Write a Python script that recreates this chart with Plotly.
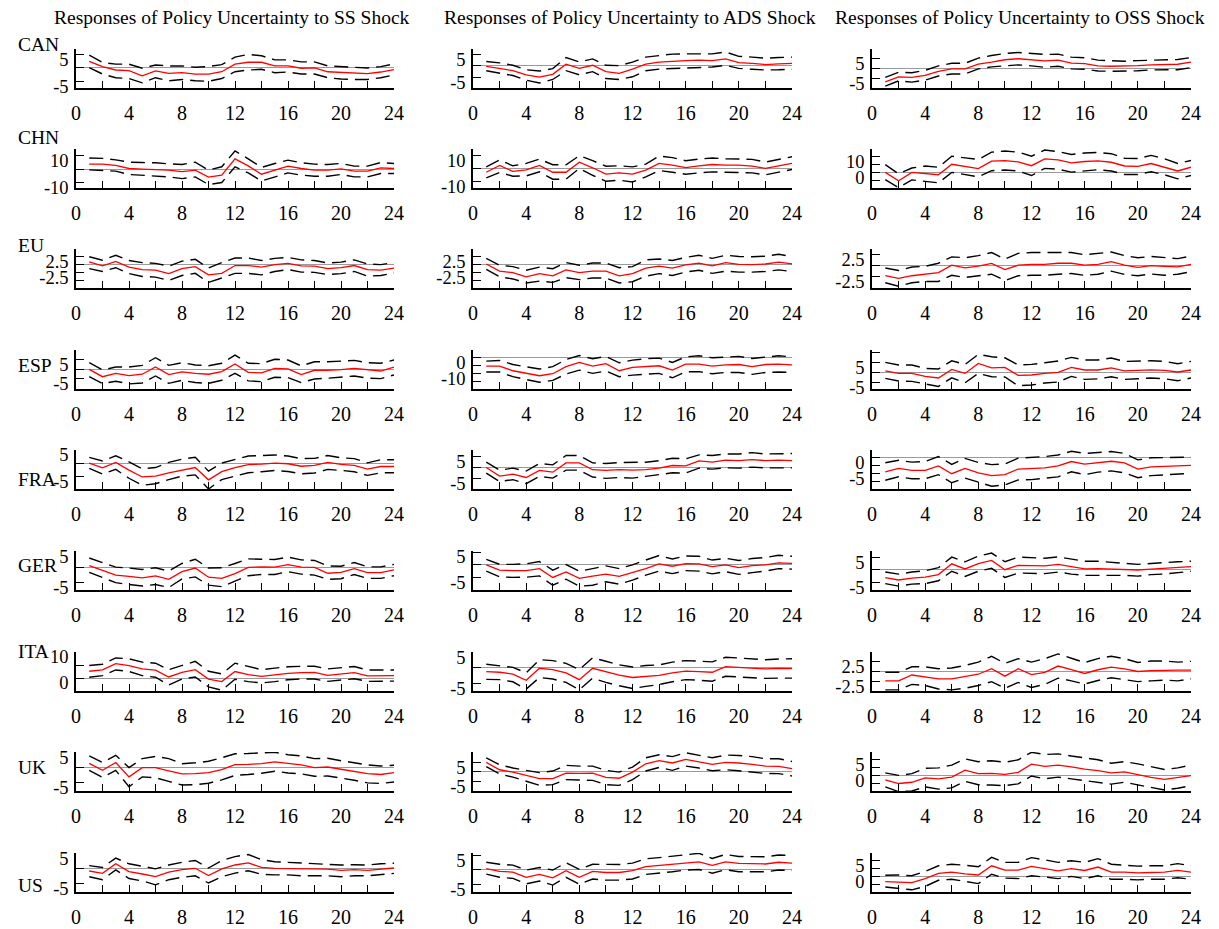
import plotly.graph_objects as go

W, H = 1219, 929
SHOCKS = ["SS", "ADS", "OSS"]
COUNTRIES = ["CAN", "CHN", "EU", "ESP", "FRA", "GER", "ITA", "UK", "US"]
HORIZON = list(range(1, 25))
X_TICKS = list(range(0, 25, 2))
X_TICK_TEXT = [str(v) if v % 4 == 0 else "" for v in X_TICKS]

# ---------------- data (median response, upper band, lower band) ----------------
CAN_SS_MED = [2.4,0.5,-0.75,-1,-2.9,-1.1,-2,-1.75,-2.25,-2.25,-1.4,1.4,2.1,2.1,0.75,0.75,-0.1,0,-1.4,-1.6,-2,-2.1,-1.5,-0.6]
CAN_SS_UP = [4.75,2,1.4,1.4,-0.1,1.1,0.75,0.75,0.25,0.5,1.25,4,5,4.5,3,3,2.25,2.25,0.75,0.5,0.1,0,0.5,1.5]
CAN_SS_LO = [0.1,-2.25,-3.6,-3.9,-5.5,-3.6,-4.75,-4.25,-4.75,-4.9,-3.9,-1.4,-0.75,-0.5,-1.75,-1.5,-2.25,-2.25,-3.6,-4.1,-4.25,-4.25,-3.6,-2.6]
CAN_ADS_MED = [-0.3,-1.2,-2.2,-4,-5,-3.8,0.6,-1.2,0.15,-2.6,-3.4,-1.5,0.6,1.5,1.9,2.2,2.35,2.2,2.9,1.3,1,0.45,0.75,1]
CAN_ADS_UP = [1.8,1.2,0.15,-1.8,-2.35,-1.3,3.5,1.6,2.9,0.15,0,1.5,3.7,4.4,5,5.1,5.1,5.1,5.9,4,3.7,3.2,3.5,3.7]
CAN_ADS_LO = [-2.2,-3.1,-4.3,-6.3,-7.5,-6,-2.2,-4,-2.6,-5.6,-6,-4.85,-2.2,-1.5,-1.2,-0.9,-0.7,-0.6,0.15,-1.2,-1.6,-1.9,-1.8,-1.5]
CAN_OSS_MED = [-6.7,-4.2,-4.5,-3.5,-1.5,-0.3,-0.3,2,3,4.2,4.7,4.2,3.7,4,2.5,2.3,1.2,1,1,1.3,1.7,2,2,3]
CAN_OSS_UP = [-4.5,-2,-2.2,-1,1.2,2.5,2.5,5,6.3,7.3,7.8,7.3,6.8,7,5.5,5.2,4,3.7,3.5,3.8,4,4.3,4.3,5.3]
CAN_OSS_LO = [-8.8,-6.2,-6.8,-5.8,-3.8,-2.8,-2.8,-0.3,0.7,1.3,1.7,1.2,0.5,1,-0.3,-0.5,-1.3,-1.5,-1.5,-1.2,-0.8,-0.7,-0.7,0.3]

CHN_SS_MED = [3.8,3.8,2.8,0.5,0,-0.25,-0.75,-1.8,-0.75,-6,-4.5,7.8,2.5,-3.8,-1,2.3,0.5,-0.75,-0.75,0.25,-1.5,-1.5,1,0.5]
CHN_SS_UP = [8.4,8.1,7,5.3,5,4.8,4,3.5,5.3,-0.75,1.8,13.7,7.8,1.3,4.3,6.8,4.8,3.8,3.5,4.3,2.3,2.3,5,4.3]
CHN_SS_LO = [-0.5,-1,-1.5,-4,-4.5,-5.3,-5.8,-7.1,-5.8,-11.6,-10.1,1.8,-2.8,-8.9,-5.8,-2.8,-4.5,-5.3,-5.3,-4,-5.8,-5.8,-3.3,-3.3]
CHN_ADS_MED = [-2.6,2.6,-2,-0.8,2.6,-2.6,-2.6,5.1,0.8,-4.1,-3.1,-4.1,-1,4.1,2.8,1,2.3,3.3,2.8,2.8,2,0.3,2.3,4.1]
CHN_ADS_UP = [1.5,6.7,2.3,4.1,7.4,3.1,3.1,10,6.2,2,2.3,1.5,3.6,9.7,8.5,6.2,7.4,8.2,7.7,7.7,7.2,5.1,7.2,9.2]
CHN_ADS_LO = [-6.9,-2.8,-5.6,-5.4,-2.3,-7.9,-7.9,0.3,-4.9,-9.5,-8.7,-10,-6.2,-1.3,-2.6,-4.1,-3.1,-2.3,-2.6,-2.6,-3.1,-4.6,-2.6,-0.5]
CHN_OSS_MED = [0,-5.4,0,-0.9,-1.5,5.2,3.9,2.4,7.2,7.6,6.7,4.3,8.7,8,6.1,7,7.4,6.5,4.1,3.9,5.7,3.5,0.9,3.3]
CHN_OSS_UP = [5,-0.9,2.8,4.1,3.3,10.4,9.3,8.3,13,13.7,13,10.4,14.3,13.3,11.5,12.4,12.8,12,9.1,8.9,10.9,8.7,5.7,7.6]
CHN_OSS_LO = [-4.6,-9.8,-4.8,-5.9,-6.7,0,-1.5,-2.8,1.1,1.5,0.9,-2,2.6,2,0.2,1.1,1.7,0.9,-1.3,-1.3,0.4,-1.5,-4.1,-2]

EU_SS_MED = [0.9,-0.4,1,-0.8,-1.6,-1.8,-2.9,-1.3,-0.65,-3.3,-2.8,-0.3,-0.3,-0.8,0,0.4,-0.4,-0.5,-1.3,-1,-0.3,-1.6,-1.8,-1.1]
EU_SS_UP = [2.5,1.4,3,1.3,0.65,0.4,-0.5,1.1,1.7,-1.1,0.65,2.1,2.1,1.3,2,2.3,1.5,1.3,0.5,0.8,1.5,0.2,0,0.65]
EU_SS_LO = [-1.3,-2.2,-1,-2.9,-3.8,-4,-5.1,-3.5,-2.8,-5.7,-4.3,-2.8,-2.8,-3.3,-2.2,-1.6,-2.4,-2.5,-3.2,-2.9,-2.2,-3.7,-3.5,-2.7]
EU_ADS_MED = [0.2,-2.1,-2.6,-3.9,-2.9,-3.6,-1.7,-2.6,-2.1,-2.1,-3.6,-2.9,-1.1,-0.5,-1.1,-0.1,0.5,-0.4,0.65,0.1,0,0.2,0.8,0.2]
EU_ADS_UP = [2,-0.2,-0.65,-1.8,-0.8,-1.3,0.65,-0.2,0.5,0.5,-1,-0.65,1.5,1.8,1.3,2.3,3,2,3,2.6,2.5,2.7,3.3,2.6]
EU_ADS_LO = [-1.5,-3.9,-4.6,-5.9,-5.3,-5.7,-4.2,-4.8,-4.3,-4.3,-5.9,-5.5,-3.7,-2.9,-3.5,-2.4,-1.8,-2.8,-2.1,-2.4,-2.4,-2.2,-1.7,-2.2]
EU_OSS_MED = [-2.3,-2.9,-2.3,-2,-1.6,0.1,-0.5,-0.1,0.5,-0.9,0.1,0.3,0.3,0.55,0.55,0.1,0.3,0.9,0.1,-0.4,0,-0.15,-0.3,0.3]
EU_OSS_UP = [-0.55,-1.1,-0.3,-0.15,0.55,2,1.8,2.3,3,1.5,2.8,3,3,3,3,2.5,2.8,3.1,2.3,1.8,2.1,1.8,1.6,2.2]
EU_OSS_LO = [-3.9,-4.7,-3.9,-3.6,-3.6,-2.2,-2.7,-2.3,-1.95,-3.4,-2.3,-2.2,-2.2,-1.95,-1.8,-2.2,-1.95,-1.25,-2,-2.3,-1.9,-2.2,-1.95,-1.4]

ESP_SS_MED = [0,-3.9,-2.1,-3.3,-2.6,1.2,-2.8,-1.4,-2.1,-2.6,-1.2,2.8,-1.6,-1.9,0.5,0.2,-2.8,-0.5,-0.5,-0.2,0.5,-0.35,-0.9,1.2]
ESP_SS_UP = [3.5,-0.35,1.2,1.2,2.1,6.1,2.1,3.5,2.3,1.9,3.2,7.5,3.2,3,5.3,4.9,1.8,4,4,4.4,4.7,3.5,3.2,4.9]
ESP_SS_LO = [-3.9,-7.5,-6.3,-7.7,-7.2,-3.5,-7.4,-5.8,-7,-7.4,-5.8,-2.1,-6.1,-6.5,-4.2,-4.4,-7,-5.1,-4.7,-4.2,-3.5,-4.7,-4.9,-3]
ESP_ADS_MED = [-5.3,-5.3,-8.3,-10,-11.5,-10.2,-5.7,-3,-5.3,-3.8,-8.3,-6.2,-5.7,-5.1,-7.9,-4,-4,-5.3,-4.5,-4.3,-5.7,-4.3,-4,-4.5]
ESP_ADS_UP = [-2.1,-1.7,-4.3,-5.7,-7.2,-5.7,-1.1,1.5,-0.6,0.9,-3.2,-1.5,-0.6,-0.2,-3,0.6,1.3,0,0.6,0.9,-0.4,0.6,1.3,0.6]
ESP_ADS_LO = [-9.1,-9.1,-12.1,-13.8,-15.7,-14.5,-10.4,-7.9,-10,-8.5,-12.1,-11.1,-10.6,-10,-12.8,-8.9,-8.9,-10.2,-9.4,-9.4,-10.6,-9.4,-9.1,-9.4]
ESP_OSS_MED = [0.8,-0.5,-0.5,-2,-2.8,1.5,-0.5,4.5,2.3,2.5,-1.5,-1.3,-0.5,0,2.5,1.2,1.2,2.3,0.8,1,1.3,1,0.2,1.2]
ESP_OSS_UP = [5,3.7,3.7,2,1.7,5.8,4,9,7.8,7.3,3.7,4,4.8,5.7,7.5,6.2,6.2,7.2,5.5,5.7,5.8,5.5,4.3,5.5]
ESP_OSS_LO = [-3,-4.3,-4.5,-5.8,-7,-2.7,-5.2,-0.5,-2.2,-2.3,-6.7,-6.3,-5.3,-4.8,-2,-3.5,-3.2,-2.2,-3.5,-3.2,-2.8,-3.2,-4.2,-2.8]

FRA_SS_MED = [0,-1.8,0.25,-2.7,-5.3,-5,-3.7,-2.6,-1.7,-6.4,-3.3,-1.7,-0.6,-0.4,0,-0.25,-1.2,-0.9,0.25,-0.5,-0.9,-2.3,-1.3,-1.3]
FRA_SS_UP = [2.2,0.8,2.8,0.5,-2.2,-1.7,0.25,1.5,2.2,-3.1,0,1.4,2.7,2.9,3.1,2.7,1.7,1.8,2.9,2,1.7,0.1,1.3,1.3]
FRA_SS_LO = [-2,-4.2,-2.4,-5.8,-8.5,-7.9,-6.3,-5,-4.5,-9.9,-6.3,-5,-3.7,-3.3,-2.8,-3.2,-4.1,-3.8,-2.4,-2.8,-3.3,-4.7,-3.7,-3.7]
FRA_ADS_MED = [0,-3.9,-3,-4.5,-1.3,-2.1,2.1,2.1,-1,-1.3,-1,-1.2,-1,-0.3,0.9,0.75,3,2.4,3.3,3.1,3.6,3.1,3.3,3.1]
FRA_ADS_UP = [2.4,-1.2,-0.3,-1.6,1.8,1.2,5.4,5.4,2.1,1.8,2.2,2.2,2.4,3.1,4.2,3.9,5.7,5.4,6.1,6.1,6.7,6.1,6.3,6.3]
FRA_ADS_LO = [-2.5,-6.3,-5.5,-7.3,-4,-4.8,-1.2,-1.2,-4.3,-4.9,-4.5,-4.8,-4,-3.3,-2.4,-2.5,-0.3,-0.75,-0.15,-0.3,0.15,-0.15,0,-0.15]
FRA_OSS_MED = [-4.5,-3.4,-4,-4,-2.6,-5.1,-3.4,-4.8,-5.7,-5.4,-3.6,-3.5,-3.2,-2.6,-1.2,-2,-1.5,-1.1,-1.6,-3.6,-2.9,-2.7,-2.5,-2.4]
FRA_OSS_UP = [-1.6,-0.8,-1.4,-1.2,0.4,-2.1,-0.2,-1.5,-2.2,-2,-0.1,0.1,0.4,0.9,2.1,1.4,1.6,2,1.4,-0.65,0,0.1,0.3,0.2]
FRA_OSS_LO = [-7.2,-6.1,-6.7,-6.7,-5.4,-8,-6.5,-7.8,-9.1,-8.7,-7.1,-7,-6.5,-6.1,-4.5,-5.4,-4.6,-4.2,-4.8,-6.4,-5.7,-5.4,-5.1,-5]

GER_SS_MED = [0.5,-1.1,-2.6,-3,-3.5,-2.9,-4,-1.5,-0.3,-3.3,-3.7,-2.1,-0.1,0.1,0,0.8,0,-0.1,-2,-1.7,-0.5,-1.8,-1.8,-0.9]
GER_SS_UP = [3,1.4,0,-0.3,-0.75,-0.2,-1.3,1.2,2.6,-0.3,-0.2,1.2,2.7,2.6,2.5,3.3,2.4,2.2,0.4,0.3,1.5,0.1,0.1,0.9]
GER_SS_LO = [-1.7,-3.5,-5.1,-5.7,-6.2,-5.7,-6.7,-3.9,-3.2,-5.9,-6.4,-4.6,-2.8,-2.4,-2.4,-1.5,-2.3,-2.6,-4,-3.8,-2.4,-3.7,-3.7,-2.8]
GER_ADS_MED = [-0.1,-2.2,-2.4,-2.4,-1.6,-5.1,-2.9,-5.5,-4.6,-3.8,-4.7,-3.3,-1.6,0.3,-0.65,0.4,0.3,-0.8,-0.1,-1.2,-0.4,-0.1,0.65,0.5]
GER_ADS_UP = [2.1,0.1,0.1,0.3,1.2,-2.2,0,-2.6,-1.6,-0.5,-1.6,-0.1,1.8,3.6,2.2,3.4,3.3,1.8,2.5,1.6,2.4,2.8,3.7,3.3]
GER_ADS_LO = [-2.6,-4.9,-5.1,-5,-4.5,-8.2,-5.8,-8.6,-8.2,-6.8,-7.8,-6.2,-4.2,-2.6,-3.6,-2.4,-2.6,-3.7,-2.8,-3.9,-3.2,-2.6,-1.6,-1.8]
GER_OSS_MED = [-3,-3.9,-3.2,-2.8,-1.8,2.4,0.4,2.5,3.7,0.1,1.8,1.7,1.6,2.2,1.2,0.4,0.5,0.3,0.3,0,0.3,0.65,1.1,1.3]
GER_OSS_UP = [-0.8,-1.6,-0.8,-0.3,0.9,5,3.2,5.4,6.6,3.2,5,4.7,4.6,5.1,4.2,3.4,3.4,2.9,2.6,2.2,2.6,2.8,3.2,3.4]
GER_OSS_LO = [-5.3,-6.3,-5.5,-5.3,-4.2,-0.5,-2.5,-0.5,0.65,-2.9,-1.2,-1.3,-1.4,-0.8,-1.6,-2.1,-2.1,-2.1,-2.1,-2.4,-1.8,-1.6,-1.1,-0.5]

ITA_SS_MED = [2.6,3.1,5.5,4.8,3.5,3,0.4,2.2,3.2,-0.4,-1.4,2.5,1.3,0.65,1.2,1.8,2.1,2.2,1,1.6,2.1,0.8,0.9,0.9]
ITA_SS_UP = [4.8,5.3,7.7,7.4,6.1,5.7,3.2,4.8,6.4,2.6,1.6,5.7,4.4,3.2,3.8,4.3,4.5,4.5,3.5,3.9,4.4,3.1,3.1,3.1]
ITA_SS_LO = [0.3,0.9,3.1,2.5,0.9,0.3,-2.7,-0.4,0.4,-3.4,-4.7,-0.5,-1.4,-1.9,-1.4,-0.65,-0.4,-0.4,-1.3,-0.8,-0.3,-1.3,-1.2,-1.2]
ITA_ADS_MED = [-1.2,-1.4,-2,-4,-0.1,-0.55,-1.6,-3.8,-0.1,-1.2,-2.3,-3.1,-2.7,-2.4,-1.6,-1,-1.2,-1.4,0.45,0.2,0,-0.3,-0.1,-0.2]
ITA_ADS_UP = [1.2,0.8,0.2,-1.6,2.7,2.4,1.5,-0.55,3.3,2.2,1,0.3,0.8,1,1.9,2.4,2.3,2,3.5,3.3,3.1,2.7,2.9,3]
ITA_ADS_LO = [-3.7,-3.8,-4.5,-6.9,-3.1,-3.6,-4.7,-7.1,-3.3,-4.7,-5.8,-6.7,-6,-5.4,-4.5,-3.8,-4,-4.3,-2.7,-3,-3.2,-3.4,-3.3,-3.3]
ITA_OSS_MED = [-2.4,-2.4,-0.9,-1.4,-1.9,-1.9,-1.3,-0.7,0.7,-1.2,0.7,-0.8,-0.2,1.4,0.5,-0.5,0.45,1.1,0.7,0,0.2,0.35,0.35,0.35]
ITA_OSS_UP = [-0.2,-0.2,1.2,1.2,0.7,0.9,1.55,2.4,3.9,2.1,3.3,2.4,3.3,4.5,3.4,2.3,3.3,3.9,3.3,2.3,2.7,2.7,2.4,2.6]
ITA_OSS_LO = [-4.7,-4.7,-3.3,-3.6,-4.5,-4.7,-4.3,-3.6,-2.6,-4.3,-2.8,-4.1,-3.3,-1.7,-2.4,-3.2,-2.3,-1.6,-2.1,-2.6,-2.4,-2.2,-2.4,-1.9]

UK_SS_MED = [1.4,-0.9,1.7,-3.1,0,0,-1.1,-2.1,-2,-1.7,-0.7,1,1.1,1.3,1.9,1.3,0.9,0,0.2,-0.55,-1.3,-2,-2.3,-1.7]
UK_SS_UP = [3.9,1.7,4.1,0,3,3.7,3,1.3,1.6,2.1,3.3,4.6,4.7,4.8,5.1,4.3,3.9,3,3.1,2.3,1.6,0.9,0.55,0.8]
UK_SS_LO = [-0.9,-3.3,-0.9,-6.4,-3.1,-3.4,-4.6,-5.8,-5.7,-5.2,-4.1,-2.6,-2.3,-1.9,-1.2,-1.8,-2.1,-2.9,-2.8,-3.4,-4.2,-5.1,-5.3,-4.8]
UK_ADS_MED = [4.8,1,-0.2,-1.9,-3.6,-3.6,-0.7,-0.9,-0.7,-2.9,-3.4,-0.2,4.1,5.7,4.5,6.4,5.2,3.8,4.8,4.5,3.8,2.9,2.8,1.6]
UK_ADS_UP = [7.1,3.6,1.9,0.7,-0.5,0.35,3.3,2.9,2.9,0.7,-0.2,2.4,7.2,8.8,7.8,9.8,8.4,7.2,8.6,8.4,7.8,6.7,6.7,5.3]
UK_ADS_LO = [2.6,-1.2,-2.8,-5,-7.1,-6.7,-4.1,-4.3,-4.5,-6.7,-7.1,-4.1,0.35,2.2,0.7,2.9,1.9,0.5,1,0.5,-0.2,-0.9,-1,-2.2]
UK_OSS_MED = [-1.4,-2.6,-2.2,-0.8,-1.1,-0.55,1.7,0.55,0.65,0.35,1,3.6,2.9,3.3,2.7,2,1.55,0.8,1.1,0.2,-0.65,-1.3,-0.8,-0.1]
UK_OSS_UP = [0.8,0,0.55,2.3,2.4,3.3,5.3,4.4,4.7,4.2,5,7.4,6.7,6.9,6.2,5.6,5,3.9,4.4,3.7,2.8,1.9,2.4,3.3]
UK_OSS_LO = [-3.7,-5.2,-5,-3.7,-4.4,-4,-1.9,-3,-3.1,-3.3,-2.7,-0.2,-1.1,-0.55,-1.1,-1.7,-2.2,-2.8,-2.2,-3,-3.9,-4.7,-4.1,-3.3]

US_SS_MED = [-0.9,-1.7,1.5,-1.1,-1.9,-2.8,-1.3,-0.45,0,-2.4,-0.2,1.1,1.8,0.3,0,-0.1,-0.1,-0.3,-0.3,-0.7,-0.45,-0.7,-0.2,0.1]
US_SS_UP = [0.9,0.3,3.4,1.5,0.7,-0.2,1.1,2,2.6,0.1,2.6,3.9,4.6,2.9,2.2,2,1.8,1.6,1.5,1.1,1.2,1.1,1.5,1.7]
US_SS_LO = [-2.8,-3.8,-0.55,-3.4,-4.2,-5.5,-3.8,-3,-2.5,-4.9,-2.8,-1.6,-0.8,-2,-2.2,-2.2,-2.5,-2.5,-2.5,-2.8,-2.5,-2.5,-2.1,-1.7]
US_ADS_MED = [0.4,-0.55,-0.8,-2.6,-1.6,-2.8,-0.3,-2.6,-0.55,-0.95,-0.95,-0.3,1.1,1.5,1.9,2.3,2.7,1.5,2.7,2.2,2,2,2.6,2.3]
US_ADS_UP = [2.6,1.9,1.6,-0.1,0.8,-0.1,2.4,0.1,1.9,1.8,1.8,2.3,3.8,4.2,4.7,5.3,5.7,3.9,5.3,4.6,4.6,4.5,5.1,4.9]
US_ADS_LO = [-1.5,-2.6,-3,-4.9,-3.9,-5.3,-2.6,-5,-3.2,-3.6,-3.6,-3.2,-1.6,-1.2,-0.7,-0.1,0.1,-1.2,0,-0.7,-0.7,-0.7,-0.1,-0.3]
US_OSS_MED = [-1.7,-1.8,-2,-0.7,1,1.4,0.8,0.45,3.4,2,2,3.2,2.5,1.8,2.5,1.9,3,1.4,1.4,1.1,1.25,1.4,1.9,1.4]
US_OSS_UP = [0.35,0.45,0.2,1.6,3.4,3.9,3.6,3.1,6.1,4.5,4.5,6,5.3,4.5,5,4.5,5.7,3.9,3.6,3.3,3.4,3.4,4.1,3.4]
US_OSS_LO = [-3.4,-3.75,-4.3,-3.2,-1.25,-0.9,-1.5,-2.3,0.7,-0.55,-0.7,0.2,-0.2,-0.7,0,-0.7,0.2,-0.9,-0.9,-1.1,-0.9,-0.9,-0.45,-0.9]

# y-axis ranges (per country, per shock) and labelled y ticks
Y_RANGES = {
    "CAN": [[-7.4, 7.0], [-9.7, 7.2], [-9.7, 9.5]],
    "CHN": [[-14.2, 15.2], [-14.6, 15.1], [-10.0, 15.0]],
    "EU":  [[-7.5, 5.0], [-7.5, 5.0], [-5.1, 3.8]],
    "ESP": [[-10.4, 10.2], [-20.0, 5.0], [-8.3, 11.2]],
    "FRA": [[-9.9, 5.0], [-9.7, 7.9], [-10.0, 2.5]],
    "GER": [[-7.5, 5.3], [-10.1, 5.4], [-7.8, 7.4]],
    "ITA": [[-5.0, 10.0], [-7.5, 5.2], [-5.0, 5.0]],
    "UK":  [[-7.8, 5.2], [-10.0, 10.2], [-5.0, 7.5]],
    "US":  [[-7.9, 5.1], [-7.7, 5.8], [-5.0, 7.5]],
}
Y_LABELS = {
    "CAN": [[5, -5], [5, -5], [5, -5]],
    "CHN": [[10, -10], [10, -10], [10, 0]],
    "EU":  [[2.5, -2.5], [2.5, -2.5], [2.5, -2.5]],
    "ESP": [[5, -5], [0, -10], [5, -5]],
    "FRA": [[5, -5], [5, -5], [0, -5]],
    "GER": [[5, -5], [5, -5], [5, -5]],
    "ITA": [[10, 0], [5, -5], [2.5, -2.5]],
    "UK":  [[5, -5], [5, -5], [5, 0]],
    "US":  [[5, -5], [5, -5], [5, 0]],
}

# ---------------- layout geometry (pixels) ----------------
COL_X = [(76, 394), (473, 792), (872, 1191)]
ROW_TOP = [49, 149, 249, 350, 450, 551, 652, 752, 853]
PANEL_H = 39
LABEL_Y = [44, 137, 245, 366, 479, 565, 651, 767, 885]
TITLE_X = [232, 630, 1020]

FONT = "Liberation Serif"

fig = go.Figure()
layout = dict(
    width=W, height=H, autosize=False,
    margin=dict(l=0, r=0, t=0, b=0, pad=0, autoexpand=False),
    paper_bgcolor="white", plot_bgcolor="white",
    showlegend=False,
    annotations=[],
)

def fmt(v):
    return str(int(v)) if float(v).is_integer() else str(v)

def tick_positions(rng, labels):
    step = abs(labels[0] - labels[1]) / 2.0
    k0 = int(rng[0] // step) - 1
    k1 = int(rng[1] // step) + 1
    vals = [k * step for k in range(k0, k1 + 1) if rng[0] + 1e-9 < k * step < rng[1] - 1e-9]
    return vals + [rng[1]]

n = 0
for r, ctry in enumerate(COUNTRIES):
    for c, shock in enumerate(SHOCKS):
        n += 1
        xa = "x" if n == 1 else f"x{n}"
        ya = "y" if n == 1 else f"y{n}"
        med = globals()[f"{ctry}_{shock}_MED"]
        up = globals()[f"{ctry}_{shock}_UP"]
        lo = globals()[f"{ctry}_{shock}_LO"]
        for series, col, dash, wd in ((up, "black", "14px,7px", 1.4),
                                      (lo, "black", "14px,7px", 1.4),
                                      (med, "red", "solid", 1.3)):
            fig.add_trace(go.Scatter(x=HORIZON, y=series, xaxis=xa, yaxis=ya,
                                     mode="lines", line=dict(color=col, width=wd, dash=dash),
                                     hoverinfo="skip"))
        x0, x1 = COL_X[c]
        top = ROW_TOP[r]
        bot = top + PANEL_H
        rng = Y_RANGES[ctry][c]
        labels = Y_LABELS[ctry][c]
        tvals = tick_positions(rng, labels)
        ttext = [fmt(v) if any(abs(v - l) < 1e-9 for l in labels) else "" for v in tvals]
        layout["xaxis" if n == 1 else f"xaxis{n}"] = dict(
            domain=[x0 / W, x1 / W], anchor=ya, range=[0, 24], automargin=False,
            tickmode="array", tickvals=X_TICKS, ticktext=X_TICK_TEXT,
            ticks="inside", ticklen=7, tickwidth=1.2, tickcolor="black",
            showline=True, linecolor="black", linewidth=1.5,
            showgrid=False, zeroline=False, ticklabelstandoff=6,
            tickfont=dict(family=FONT, size=20, color="black"),
        )
        layout["yaxis" if n == 1 else f"yaxis{n}"] = dict(
            domain=[1 - bot / H, 1 - top / H], anchor=xa, range=rng, automargin=False,
            tickmode="array", tickvals=tvals, ticktext=ttext,
            ticks="inside", ticklen=8, tickwidth=1.2, tickcolor="black",
            showline=True, linecolor="black", linewidth=1.5,
            showgrid=False, zeroline=True, zerolinecolor="#9a9a9a", zerolinewidth=1,
            ticklabelstandoff=2, ticklabelshift=5,
            tickfont=dict(family=FONT, size=18.5, color="black"),
        )
    layout["annotations"].append(dict(
        text=ctry, xref="paper", yref="paper", x=16 / W, y=1 - LABEL_Y[r] / H,
        xanchor="left", yanchor="middle", showarrow=False,
        font=dict(family=FONT, size=19.5, color="black")))

for c, shock in enumerate(SHOCKS):
    layout["annotations"].append(dict(
        text=f"Responses of Policy Uncertainty to {shock} Shock",
        xref="paper", yref="paper", x=TITLE_X[c] / W, y=1 - 18 / H,
        xanchor="center", yanchor="middle", showarrow=False,
        font=dict(family=FONT, size=19.5, color="black")))

fig.update_layout(**layout)
fig.write_html("out.html")
